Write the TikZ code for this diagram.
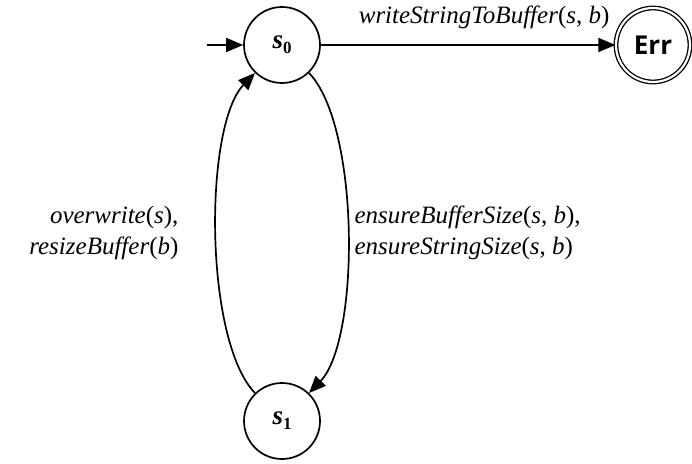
\documentclass[tikz,border=0pt]{standalone}
\usepackage{fontspec}
\setmainfont{Liberation Serif}
\newfontfamily\statefont{Open Sans}
\usetikzlibrary{arrows.meta}
\newcommand{\st}[1]{{\bfseries\itshape s}\raisebox{-0.4ex}{\bfseries\fontsize{17}{17}\selectfont #1}}
\newcommand{\vr}[1]{\textit{#1}}
\begin{document}
\begin{tikzpicture}[x=1pt,y=1pt,
  state/.style={circle,draw,line width=1.7pt,minimum size=76pt,inner sep=0pt,
    font=\fontsize{27}{28}\selectfont},
  accept/.style={state,double,double distance=2.2pt,line width=1.3pt,minimum size=74pt,
    font=\fontsize{26}{28}\selectfont},
  trans/.style={line width=1.7pt,-{Triangle[length=17pt,width=14pt]}},
  lbl/.style={font=\fontsize{25}{31}\selectfont}]
\useasboundingbox (0,0) rectangle (692,463);
\node[state] (s0) at (282,418) {\st{0}};
\node[state] (s1) at (282,42) {\st{1}};
\node[accept] (err) at (653,418) {\statefont\bfseries Err};
\coordinate (init) at (207,418);
\draw[trans] (init) -- (s0);
\draw[trans] (s0) -- node[lbl,above=12pt,xshift=16pt] {\vr{writeStringToBuffer}(\vr{s}, \vr{b})} (err);
\draw[trans] (s0) to[out=-46,in=46,looseness=0.59]
  node[lbl,right=3pt,align=left] {\vr{ensureBufferSize}(\vr{s}, \vr{b}),\\\vr{ensureStringSize}(\vr{s}, \vr{b})} (s1);
\draw[trans] (s1) to[out=134,in=-134,looseness=0.59]
  node[lbl,left=34pt,align=right] {\vr{overwrite}(\vr{s}),\\\vr{resizeBuffer}(\vr{b})} (s0);
\end{tikzpicture}
\end{document}
